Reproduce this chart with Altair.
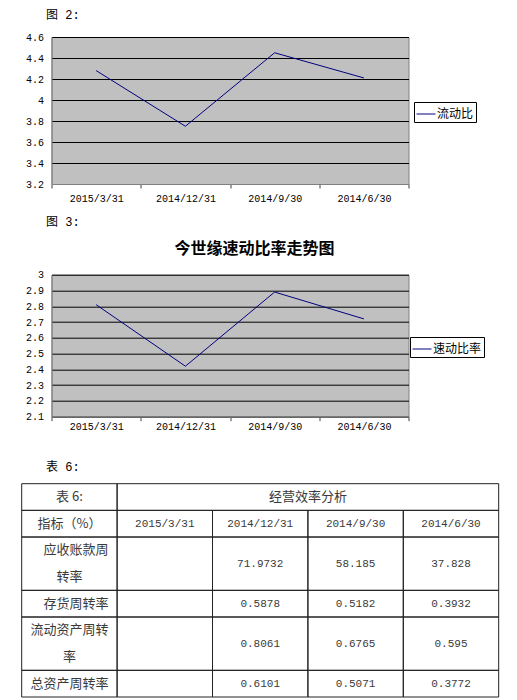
import altair as alt
import pandas as pd

# ---------------- data ----------------
dates = ["2015/3/31", "2014/12/31", "2014/9/30", "2014/6/30"]
current_ratio = [4.28, 3.75, 4.45, 4.21]
quick_ratio = [2.81, 2.42, 2.89, 2.72]
y1_ticks = [3.2, 3.4, 3.6, 3.8, 4.0, 4.2, 4.4, 4.6]
y2_ticks = [2.1, 2.2, 2.3, 2.4, 2.5, 2.6, 2.7, 2.8, 2.9, 3.0]

fig2_label = "图 2:"
fig3_label = "图 3:"
fig3_title = "今世缘速动比率走势图"
series1 = "流动比"
series2 = "速动比率"

table_label = "表 6:"
table_caption = "表 6:"
table_title = "经营效率分析"
header_label = "指标（%）"
indicators = ["\u3000应收账款周\n转率", "\u3000存货周转率", "流动资产周转\n率", "总资产周转率"]
receivable_turnover = ["", "71.9732", "58.185", "37.828"]
inventory_turnover = ["", "0.5878", "0.5182", "0.3932"]
current_asset_turnover = ["", "0.8061", "0.6765", "0.595"]
total_asset_turnover = ["", "0.6101", "0.5071", "0.3772"]

# ---------------- styles ----------------
MONO = "Liberation Mono, DejaVu Sans Mono, Noto Sans CJK SC"
CJK = "Noto Sans CJK SC"
LINE_COLOR = "#000080"
TEXT_COLOR = "#3a3a3a"
PLOT_W = 357


def line_chart(values, name, ticks, legend_x, legend_y, label_pad):
    df = pd.DataFrame({"date": dates, "value": values, "series": [name] * len(dates)})
    return alt.Chart(df).mark_line(strokeWidth=1).encode(
        x=alt.X(
            "date:N", sort=dates,
            scale=alt.Scale(type="band", paddingInner=0, paddingOuter=0),
            axis=alt.Axis(title=None, labelAngle=0, labelFont=MONO, labelFontSize=10,
                          labelColor="black", tickBand="extent", tickSize=4,
                          tickColor="#404040", domainColor="#808080",
                          labelPadding=label_pad, grid=False),
        ),
        y=alt.Y(
            "value:Q",
            scale=alt.Scale(domain=[ticks[0], ticks[-1]], nice=False, zero=False),
            axis=alt.Axis(title=None, values=ticks, format="~g", labelFont=MONO,
                          labelFontSize=10, labelColor="black", grid=True,
                          gridColor="black", gridWidth=1, ticks=False,
                          domainColor="#808080", labelPadding=8),
        ),
        color=alt.Color(
            "series:N",
            scale=alt.Scale(range=[LINE_COLOR]),
            legend=alt.Legend(title=None, orient="none", legendX=legend_x, legendY=legend_y,
                              symbolType="stroke", symbolSize=361, symbolStrokeWidth=1,
                              labelFont=CJK, labelFontSize=12, labelColor="black",
                              strokeColor="black", fillColor="white", padding=2,
                              labelOffset=1, cornerRadius=0),
        ),
    )


def label(text, x, y, **kw):
    return alt.Chart(pd.DataFrame({"t": [text]})).mark_text(
        baseline="middle", color="black", **kw
    ).encode(text="t:N", x=alt.value(x), y=alt.value(y))


# chart 1
line1 = line_chart(current_ratio, series1, y1_ticks, 362.5, 65, 5)
lab1 = label(fig2_label, -5.5, -22, align="left", font=MONO, fontSize=12)
chart1 = alt.layer(line1, lab1).properties(
    width=PLOT_W, height=147,
    view=alt.ViewBackground(fill="#c0c0c0", stroke="#808080", strokeWidth=1),
)

# chart 2
line2 = line_chart(quick_ratio, series2, y2_ticks, 358.5, 62.3, 1)
lab3 = label(fig3_label, -5.5, -53.2, align="left", font=MONO, fontSize=12)
title3 = label(fig3_title, PLOT_W / 2 + 24.5, -26, align="center", font=CJK,
               fontSize=16, fontWeight="bold")
chart2 = alt.layer(line2, lab3, title3).properties(
    width=PLOT_W, height=142,
    view=alt.ViewBackground(fill="#c0c0c0", stroke="#808080", strokeWidth=1),
)

# ---------------- table ----------------
rows = [
    [(table_caption, 0, 1), (table_title, 1, 4)],
    [(header_label, 0, 1)] + [(d, i + 1, 1) for i, d in enumerate(dates)],
]
for name, vals in zip(indicators, [receivable_turnover, inventory_turnover,
                                   current_asset_turnover, total_asset_turnover]):
    rows.append([(name, 0, 1)] + [(v, i + 1, 1) for i, v in enumerate(vals)])

cell_recs, text_recs = [], []
r0 = 0
for row in rows:
    nlines = max(len(t.split("\n")) for t, _, _ in row)
    for t, c, span in row:
        cell_recs.append({"c0": c, "c1": c + span, "r0": r0, "r1": r0 + nlines})
        parts = t.split("\n") if t else []
        start = r0 + (nlines - len(parts)) / 2
        for li, p in enumerate(parts):
            if p.startswith("\u3000"):
                kind, p = "indent", p[1:]
            elif any(ord(ch) > 0x2E80 for ch in p):
                kind = "cjk"
            else:
                kind = "num"
            text_recs.append({"x": c + span / 2, "y": start + li + 0.5, "text": p, "kind": kind})
    r0 += nlines

cells_df = pd.DataFrame(cell_recs)
text_df = pd.DataFrame(text_recs)
n_lines = r0

tx = alt.Scale(domain=[0, 5], range=[-29.8, 447.2])
ty = alt.Scale(domain=[0, n_lines], range=[-23.7, 189.6])

cells = alt.Chart(cells_df).mark_rect(filled=False, stroke="#222222", strokeWidth=1).encode(
    x=alt.X("c0:Q", scale=tx, axis=None), x2="c1",
    y=alt.Y("r0:Q", scale=ty, axis=None), y2="r1",
)


def table_text(kind, font, size, dx=0):
    return alt.Chart(text_df).transform_filter(alt.datum.kind == kind).mark_text(
        align="center", baseline="middle", font=font, fontSize=size, color=TEXT_COLOR, dx=dx
    ).encode(x=alt.X("x:Q", scale=tx, axis=None), y=alt.Y("y:Q", scale=ty, axis=None),
             text="text:N")


txt_cjk = table_text("cjk", CJK, 13)
txt_ind = table_text("indent", CJK, 13, dx=6.5)
txt_num = table_text("num", MONO, 11)
lab6 = label(table_label, -5.5, -40.4, align="left", font=MONO, fontSize=12)

table = alt.layer(cells, txt_cjk, txt_ind, txt_num, lab6).properties(
    width=PLOT_W, height=190,
    view=alt.ViewBackground(stroke=None, fill=None),
)

chart = alt.vconcat(chart1, chart2, table, spacing=90.7, bounds="flush").properties(
    padding={"left": 12.5, "top": 0, "right": 0, "bottom": 0},
).resolve_scale(color="independent").configure(background="white")

chart.save("out.html", embed_options={"renderer": "svg", "actions": False})
